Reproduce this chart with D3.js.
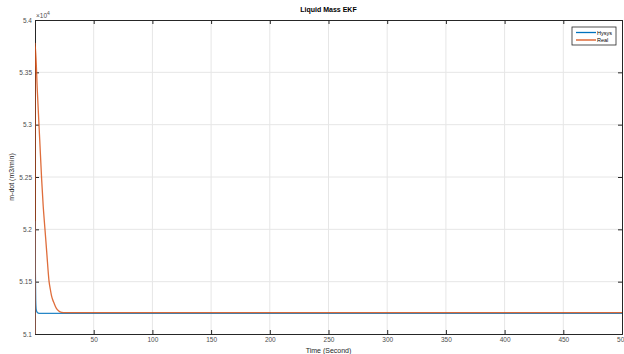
<!DOCTYPE html>
<html>
<head>
<meta charset="utf-8">
<script src="https://cdn.jsdelivr.net/npm/d3@7"></script>
<style>
  body { margin: 0; background: #fff; }
  text { font-family: "Liberation Sans", Arial, sans-serif; }
</style>
</head>
<body>
<div id="chart"></div>
<script>
// data (values in m3/min, axis shows x10^4)
var hysysT = [0, 0.02, 0.3, 0.6, 1, 1.5, 2, 3.5, 6, 20, 100, 200, 300, 400, 500];
var hysysV = [0, 52080, 51600, 51320, 51235, 51215, 51205, 51198, 51198, 51198, 51198, 51198, 51198, 51198, 51198];
var realT = [0, 0.02, 2, 4, 5.7, 7, 8.5, 10, 12, 13, 14, 15, 16.2, 17.5, 19, 21, 22.7, 26, 60, 120, 180, 240, 300, 360, 420, 500];
var realV = [0, 53780, 53320, 52860, 52470, 52220, 52000, 51780, 51500, 51430, 51370, 51330, 51296, 51260, 51232, 51214, 51207, 51204, 51204, 51205, 51204, 51205, 51204, 51205, 51204, 51204];
var yTicks = [51000, 51500, 52000, 52500, 53000, 53500, 54000];
var xTicks = [0, 50, 100, 150, 200, 250, 300, 350, 400, 450, 500];
var seriesNames = ["Hysys", "Real"];
var seriesColors = ["#0072BD", "#D95319"];

var W = 624, H = 354;
var m = {left: 35, right: 2, top: 20, bottom: 20};
var pw = W - m.left - m.right, ph = H - m.top - m.bottom;

var svg = d3.select("#chart").append("svg")
    .attr("width", W).attr("height", H);

var x = d3.scaleLinear().domain([0, 500]).range([m.left, m.left + pw]);
var y = d3.scaleLinear().domain([51000, 54000]).range([m.top + ph, m.top]);

// grid
svg.append("g").selectAll("line").data(xTicks.slice(1, -1)).enter().append("line")
    .attr("x1", d => x(d)).attr("x2", d => x(d))
    .attr("y1", m.top).attr("y2", m.top + ph)
    .attr("stroke", "#e6e6e6").attr("stroke-width", 1);
svg.append("g").selectAll("line").data(yTicks.slice(1, -1)).enter().append("line")
    .attr("x1", m.left).attr("x2", m.left + pw)
    .attr("y1", d => y(d)).attr("y2", d => y(d))
    .attr("stroke", "#e6e6e6").attr("stroke-width", 1);

// axes
var fmtY = d => d3.format("")(+(d / 1e4).toFixed(2));
var gx = svg.append("g").attr("transform", "translate(0," + (m.top + ph) + ")")
    .call(d3.axisBottom(x).tickValues(xTicks).tickSize(-4).tickPadding(3)
      .tickFormat(d => d === 0 ? "" : d));
var gxt = svg.append("g").attr("transform", "translate(0," + m.top + ")")
    .call(d3.axisTop(x).tickValues(xTicks).tickSize(-4).tickFormat(""));
var gy = svg.append("g").attr("transform", "translate(" + m.left + ",0)")
    .call(d3.axisLeft(y).tickValues(yTicks).tickSize(-4).tickPadding(3).tickFormat(fmtY));
var gyr = svg.append("g").attr("transform", "translate(" + (m.left + pw) + ",0)")
    .call(d3.axisRight(y).tickValues(yTicks).tickSize(-4).tickFormat(""));

[gx, gxt, gy, gyr].forEach(function(g) {
  g.selectAll("path").attr("stroke", "#262626").attr("stroke-width", 1);
  g.selectAll("line").attr("stroke", "#262626").attr("stroke-width", 1);
  g.selectAll("text").attr("fill", "#4d4d4d").style("font-size", "6.5px");
});

// multiplier
var mult = svg.append("text").attr("x", m.left + 1).attr("y", m.top - 2)
    .attr("fill", "#4d4d4d").style("font-size", "6.5px");
mult.append("tspan").text("\u00d710");
mult.append("tspan").attr("dy", -3).style("font-size", "5px").text("4");

// lines
svg.append("clipPath").attr("id", "clip").append("rect")
    .attr("x", m.left).attr("y", m.top).attr("width", pw).attr("height", ph);
var line = d3.line().curve(d3.curveMonotoneX).x(d => x(d[0])).y(d => y(d[1]));
var series = [d3.zip(hysysT, hysysV), d3.zip(realT, realV)];
series.forEach(function(s, i) {
  svg.append("path").datum(s)
    .attr("clip-path", "url(#clip)")
    .attr("fill", "none")
    .attr("stroke", seriesColors[i])
    .attr("stroke-width", 1.3)
    .attr("opacity", 0.85)
    .attr("d", line);
});

// titles
svg.append("text").attr("x", m.left + pw / 2).attr("y", 12)
    .attr("text-anchor", "middle").style("font-size", "7px").style("font-weight", "bold")
    .attr("fill", "#000").text("Liquid Mass EKF");
svg.append("text").attr("x", m.left + pw / 2).attr("y", 353)
    .attr("text-anchor", "middle").style("font-size", "7px")
    .attr("fill", "#262626").text("Time  (Second)");
svg.append("text").attr("transform", "translate(14," + (m.top + ph / 2) + ") rotate(-90)")
    .attr("text-anchor", "middle").style("font-size", "7px")
    .attr("fill", "#262626").text("m-dot  (m3/min)");

// legend
var lg = svg.append("g");
lg.append("rect").attr("x", 572).attr("y", 27).attr("width", 44).attr("height", 18)
    .attr("fill", "#fff").attr("stroke", "#262626").attr("stroke-width", 0.8);
seriesNames.forEach(function(n, i) {
  var yy = 32.5 + i * 7.5;
  lg.append("line").attr("x1", 576).attr("x2", 596).attr("y1", yy).attr("y2", yy)
    .attr("stroke", seriesColors[i]).attr("stroke-width", 1.3);
  lg.append("text").attr("x", 597).attr("y", yy + 2).style("font-size", "5.5px")
    .attr("fill", "#000").text(n);
});
</script>
</body>
</html>
